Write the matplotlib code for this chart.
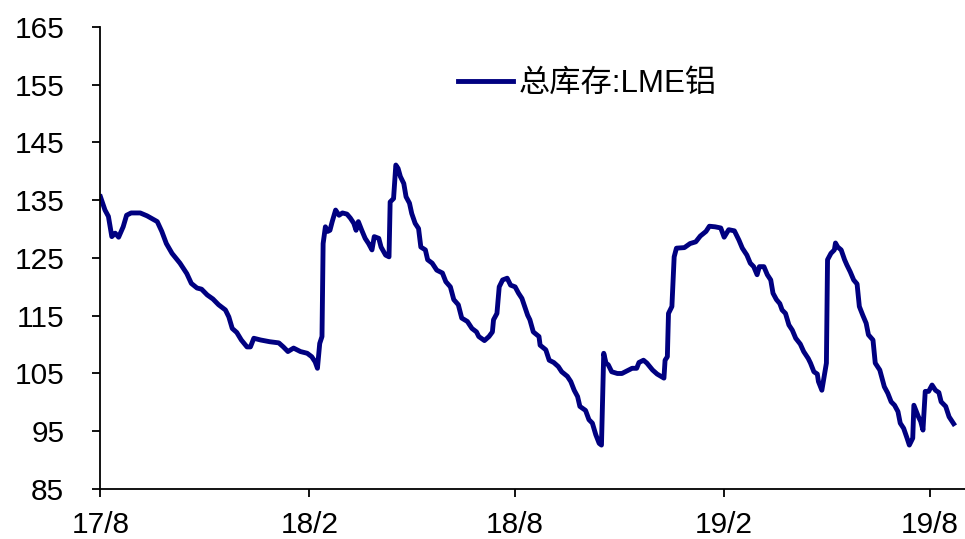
import matplotlib
matplotlib.use("Agg")
import matplotlib.pyplot as plt
import pandas as pd

# LME aluminium total stocks (10k t), days counted from 2017-08-01
start = pd.Timestamp("2017-08-01")
days = [0, 4, 7, 10, 13, 16, 20, 23, 27, 35, 41, 50, 54, 58, 63, 70, 76, 80, 85, 89,
        94, 99, 104, 110, 113, 116, 120, 124, 129, 132, 135, 141, 149, 157, 161, 165, 170, 176, 182, 186,
        189, 191, 193, 195, 196, 198, 200, 202, 204, 207, 210, 213, 217, 220, 223, 225, 227, 230, 233, 236,
        239, 241, 245, 247, 251, 254, 255, 258, 260, 262, 264, 267, 269, 272, 274, 277, 280, 282, 286, 288,
        292, 296, 301, 304, 308, 311, 315, 318, 323, 327, 331, 333, 338, 342, 345, 346, 349, 351, 354, 358,
        361, 365, 368, 371, 376, 378, 381, 386, 387, 392, 395, 399, 403, 406, 411, 414, 417, 420, 422, 427,
        430, 433, 436, 439, 441, 443, 445, 447, 450, 455, 459, 464, 468, 472, 474, 478, 481, 486, 490, 496,
        497, 499, 500, 503, 505, 507, 514, 519, 524, 528, 533, 536, 541, 546, 549, 553, 558, 562, 565, 569,
        572, 575, 578, 580, 584, 587, 590, 592, 595, 598, 600, 603, 606, 609, 612, 616, 619, 623, 625, 628,
        631, 632, 635, 637, 639, 640, 643, 646, 647, 649, 652, 655, 657, 660, 663, 666, 668, 671, 674, 676,
        680, 682, 686, 690, 693, 696, 699, 702, 704, 707, 710, 712, 715, 716, 720, 722, 724, 726, 729, 732,
        735, 738, 740, 744, 747, 751]
stock = [135.6, 133.3, 132.2, 128.7, 129.3, 128.6, 130.4, 132.4, 132.8, 132.8, 132.3, 131.3, 129.6, 127.5, 125.8, 124.1, 122.3, 120.6, 119.8, 119.6,
         118.6, 117.9, 116.9, 116.0, 114.8, 112.8, 112.1, 110.8, 109.6, 109.6, 111.1, 110.8, 110.5, 110.3, 109.6, 108.8, 109.4, 108.8, 108.5, 107.9,
         107.0, 105.9, 110.2, 111.4, 127.5, 130.4, 129.6, 129.8, 131.3, 133.3, 132.4, 132.8, 132.6, 131.9, 131.0, 129.8, 131.3, 129.8, 128.4, 127.5,
         126.4, 128.7, 128.4, 126.9, 125.5, 125.2, 134.7, 135.3, 141.1, 140.5, 139.1, 137.9, 135.6, 134.5, 132.7, 131.0, 130.1, 126.9, 126.4, 124.7,
         124.1, 122.9, 122.4, 120.9, 120.0, 117.8, 116.9, 114.6, 114.0, 112.8, 112.2, 111.4, 110.7, 111.4, 112.2, 114.3, 115.4, 120.0, 121.2, 121.5,
         120.3, 120.0, 118.9, 118.0, 115.1, 114.3, 112.2, 111.4, 109.9, 109.1, 107.3, 106.9, 106.2, 105.3, 104.5, 103.6, 102.1, 101.0, 99.3, 98.6,
         97.0, 96.4, 94.4, 92.9, 92.6, 108.5, 106.8, 106.5, 105.3, 105.0, 105.0, 105.5, 105.9, 105.9, 106.9, 107.3, 106.8, 105.6, 104.9, 104.2,
         107.3, 107.9, 115.4, 116.6, 125.2, 126.7, 126.8, 127.5, 127.8, 128.8, 129.6, 130.5, 130.4, 130.2, 128.6, 129.9, 129.7, 128.1, 126.7, 125.5,
         124.1, 123.5, 122.1, 123.5, 123.5, 122.1, 121.2, 118.9, 117.8, 117.1, 116.0, 115.4, 113.4, 112.5, 111.1, 110.1, 108.8, 107.6, 106.8, 105.3,
         104.9, 103.6, 102.1, 104.4, 106.8, 124.7, 125.8, 126.4, 127.6, 126.9, 126.4, 124.7, 123.8, 122.6, 121.2, 120.5, 116.6, 115.1, 113.7, 111.7,
         110.8, 106.8, 105.6, 102.7, 101.6, 100.1, 99.5, 98.4, 96.4, 95.5, 93.8, 92.6, 93.8, 99.5, 97.5, 96.7, 95.2, 101.9, 101.9, 103.0,
         102.1, 101.7, 100.1, 99.3, 97.5, 96.3]

tick_dates = ["2017-08-01", "2018-02-01", "2018-08-01", "2019-02-01", "2019-08-01"]
tick_labels = ["17/8", "18/2", "18/8", "19/2", "19/8"]
y_ticks = [85, 95, 105, 115, 125, 135, 145, 155, 165]

plt.rcParams["font.family"] = ["Liberation Sans", "Noto Sans CJK SC"]

dates = start + pd.to_timedelta(days, unit="D")

fig = plt.figure(figsize=(9.65, 5.39), dpi=100)
ax = fig.add_axes([0.1041, 0.0928, 0.8959, 0.8571])

ax.plot(dates, stock, color="#000080", lw=3.5, label="总库存:LME铝", solid_joinstyle="round")

ax.set_ylim(85, 165)
ax.set_yticks(y_ticks)
ax.set_xlim(start, pd.Timestamp("2019-09-01"))
ax.set_xticks(pd.to_datetime(tick_dates))
ax.set_xticklabels(tick_labels)

for side in ["top", "right"]:
    ax.spines[side].set_visible(False)
for side in ["left", "bottom"]:
    ax.spines[side].set_linewidth(1.3)
ax.tick_params(axis="y", direction="out", length=6, width=1.3, pad=20, labelsize=21.5)
ax.tick_params(axis="x", direction="out", length=6, width=1.3, pad=10, labelsize=21.5)

ax.legend(loc="center left", bbox_to_anchor=(0.4135, 0.877), frameon=False,
          fontsize=22.5, handlelength=1.75, handletextpad=0.2, borderpad=0, borderaxespad=0)

fig.savefig("out.png", dpi=100)
